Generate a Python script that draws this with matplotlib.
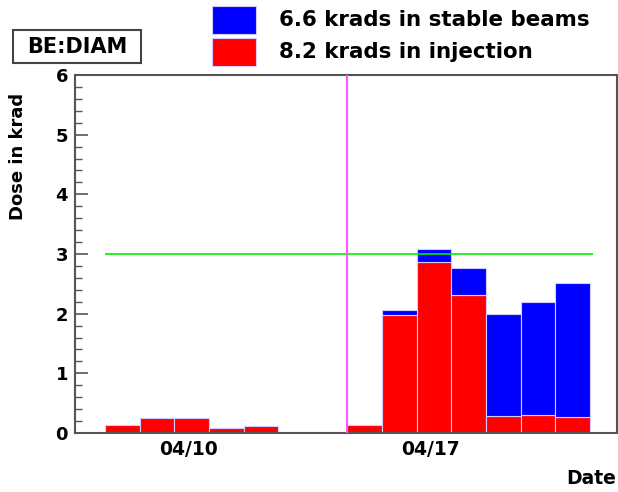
import numpy as np
import matplotlib
matplotlib.use("Agg")
import matplotlib.pyplot as plt
from matplotlib.patches import Rectangle
from matplotlib.ticker import MultipleLocator

plt.rcParams.update({"font.family": "DejaVu Sans", "font.weight": "bold",
                     "axes.edgecolor": "#555555", "axes.linewidth": 1.5})

# daily dose (krad), one bin per day
days = ["04/08", "04/09", "04/10", "04/11", "04/12", "04/13", "04/14",
        "04/15", "04/16", "04/17", "04/18", "04/19", "04/20", "04/21"]
injection = [0.13, 0.245, 0.245, 0.09, 0.12, 0.01, 0.01,
             0.13, 1.98, 2.86, 2.32, 0.28, 0.30, 0.26]
stable = [0, 0, 0, 0, 0, 0, 0,
          0, 0.08, 0.23, 0.45, 1.71, 1.89, 2.26]
tick_dates = ["04/10", "04/17"]
limit = 3.0
marker_day = "04/15"
legend_labels = ["6.6 krads in stable beams", "8.2 krads in injection"]
BLUE = "#0000ff"; RED = "#ff0000"; EDGE = "#d0ccff"

W, H = 618, 492
fig = plt.figure(figsize=(W / 100, H / 100), dpi=100)
def fx(px): return px / W
def fy(py): return 1 - py / H

ax = fig.add_axes([fx(75), fy(433), fx(617) - fx(75), fy(75) - fy(433)])
x = np.arange(len(days))
inj = np.array(injection); stb = np.array(stable)
ax.bar(x, inj, width=1, align="edge", color=RED, edgecolor=EDGE, lw=0.8, zorder=2)
m = stb > 0
ax.bar(x[m], stb[m], bottom=inj[m], width=1, align="edge", color=BLUE, edgecolor=EDGE, lw=0.8, zorder=2)

ax.hlines(limit, 0, len(days) + 0.1, color="#00ee00", lw=1.2, zorder=3)
ax.axvline(days.index(marker_day), color="#ff55ff", lw=1.5, zorder=3)

ax.set_xlim(-0.866, 14.78)
ax.set_ylim(0, 6)
ax.yaxis.set_major_locator(MultipleLocator(1))
ax.yaxis.set_minor_locator(MultipleLocator(0.2))
ax.tick_params(axis="y", which="major", direction="in", length=9.4, width=1.2,
               color="#555555", labelsize=13, pad=5)
ax.tick_params(axis="y", which="minor", direction="in", length=4.7, width=1.0, color="#555555")
ax.set_xticks([days.index(d) + 0.4 for d in tick_dates])
ax.set_xticklabels(tick_dates)
ax.tick_params(axis="x", length=0, labelsize=13.5, pad=5)
for lab in ax.get_xticklabels() + ax.get_yticklabels():
    lab.set_fontweight("bold")

fig.text(fx(18), fy(93), "Dose in krad", rotation=90, ha="center", va="top", fontsize=13)
fig.text(fx(616), fy(479), "Date", ha="right", va="center", fontsize=13.5)

# title box
fig.add_artist(Rectangle((fx(13), fy(63)), fx(141) - fx(13), fy(30) - fy(63),
                         transform=fig.transFigure, facecolor="white", edgecolor="#444444", lw=1.5))
fig.text(fx(77), fy(47), "BE:DIAM", ha="center", va="center", fontsize=15)

# legend
for i, (lab, col) in enumerate(zip(legend_labels, [BLUE, RED])):
    top = 6 + i * 32
    fig.add_artist(Rectangle((fx(212), fy(top + 28)), fx(256) - fx(212), fy(top) - fy(top + 28),
                             transform=fig.transFigure, facecolor=col, edgecolor=EDGE, lw=0.8))
    fig.text(fx(279), fy(top + 14), lab, ha="left", va="center", fontsize=15.4)

fig.savefig("out.png", dpi=100)
